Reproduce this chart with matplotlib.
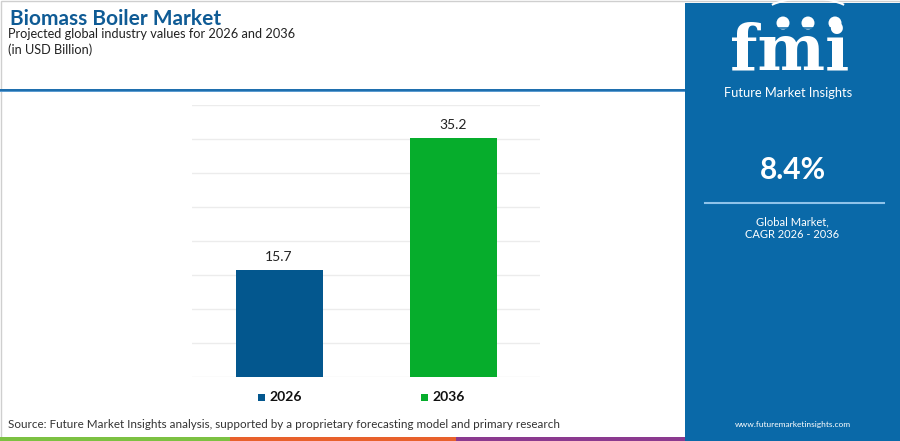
import matplotlib.pyplot as plt
from matplotlib.patches import Rectangle, Circle, Arc

years = ["2026", "2036"]
values = [15.7, 35.2]
bar_colors = ["#03578E", "#06AD2C"]
cagr = "8.4%"

title = "Biomass Boiler Market"
subtitle = "Projected global industry values for 2026 and 2036"
unit = "(in USD Billion)"
source = ("Source: Future Market Insights analysis, supported by a proprietary "
          "forecasting model and primary research")

panel_blue = "#0A69A8"
plt.rcParams["font.family"] = ["Lato", "DejaVu Sans"]

fig = plt.figure(figsize=(9, 4.41), dpi=100)

# background / decoration layer in pixel coords
bg = fig.add_axes([0, 0, 1, 1])
bg.set_xlim(0, 900)
bg.set_ylim(441, 0)
bg.axis("off")

bg.add_patch(Rectangle((0.5, 0.5), 899, 440, fill=False, ec="#cfcfcf", lw=1))
bg.add_patch(Rectangle((0, 89), 686, 2.2, color="#1F6FAE", lw=0))
bg.add_patch(Rectangle((0, 91.2), 686, 1.2, color="#5B9BD0", lw=0))

# bottom colour stripes
bg.add_patch(Rectangle((0, 436.5), 230, 4.5, color="#7CC142", lw=0))
bg.add_patch(Rectangle((230, 436.5), 226, 4.5, color="#E8612C", lw=0))
bg.add_patch(Rectangle((456, 436.5), 230, 4.5, color="#8B3A8F", lw=0))

# right panel
bg.add_patch(Rectangle((685, 3), 215, 438, color=panel_blue, lw=0))

bg.text(10, 19, title, fontsize=15, fontweight="bold", color="#0F5B95",
        va="center", ha="left")
bg.text(8, 34, subtitle, fontsize=9.2, color="#222222", va="center", ha="left")
bg.text(8, 50, unit, fontsize=9.2, color="#222222", va="center", ha="left")
bg.text(8, 425, source, fontsize=8.4, color="#333333", va="center", ha="left")

# fmi logo (approximation)
bg.text(790, 52, "fmi", fontsize=46, fontweight="bold", family="DejaVu Serif",
        color="white", ha="center", va="center")
for yy in range(28, 82, 4):
    bg.plot([718, 865], [yy, yy], color=panel_blue, lw=1.1)
for cx in [783, 808, 835]:
    bg.add_patch(Circle((cx, 23), 6.5, color="white", lw=0))
bg.add_patch(Arc((808, 18), 96, 40, theta1=200, theta2=340, color="white", lw=1.5))
bg.text(788, 93, "Future Market Insights", fontsize=9.3, color="white",
        ha="center", va="center")

bg.text(793, 170, cagr, fontsize=21.5, fontweight="bold", color="white",
        ha="center", va="center")
bg.plot([705, 884], [203, 203], color="#8FC3EA", lw=1.5)
bg.text(792, 222, "Global Market,", fontsize=8, color="white", ha="center", va="center")
bg.text(792, 234, "CAGR 2026 - 2036", fontsize=8, color="white", ha="center", va="center")
bg.text(793, 425, "www.futuremarketinsights.com", fontsize=6, color="white",
        ha="center", va="center")

# chart
ax = fig.add_axes([192 / 900, 64 / 441, 348 / 900, 272 / 441])
ax.set_facecolor("none")
x = range(len(years))
bars = ax.bar(x, values, width=0.5, color=bar_colors, zorder=3)
ax.set_xlim(-0.5, 1.5)
ax.set_ylim(0, 40)
ax.set_yticks(range(0, 41, 5))
ax.grid(axis="y", color="#ececec", lw=1, zorder=0)
ax.tick_params(left=False, bottom=False, labelleft=False, labelbottom=False)
for s in ax.spines.values():
    s.set_visible(False)
for b, v in zip(bars, values):
    ax.annotate(f"{v}", (b.get_x() + b.get_width() / 2, v), xytext=(0, 5),
                textcoords="offset points", ha="center", va="bottom",
                fontsize=10, color="#222222")

# legend
for px, lab, col in [(258, years[0], bar_colors[0]), (421, years[1], bar_colors[1])]:
    bg.add_patch(Rectangle((px, 393.5), 7, 7, color=col, lw=0))
    bg.text(px + 11, 397, lab, fontsize=10, fontweight="bold", color="#111111",
            ha="left", va="center")

fig.savefig("out.png", dpi=100)
